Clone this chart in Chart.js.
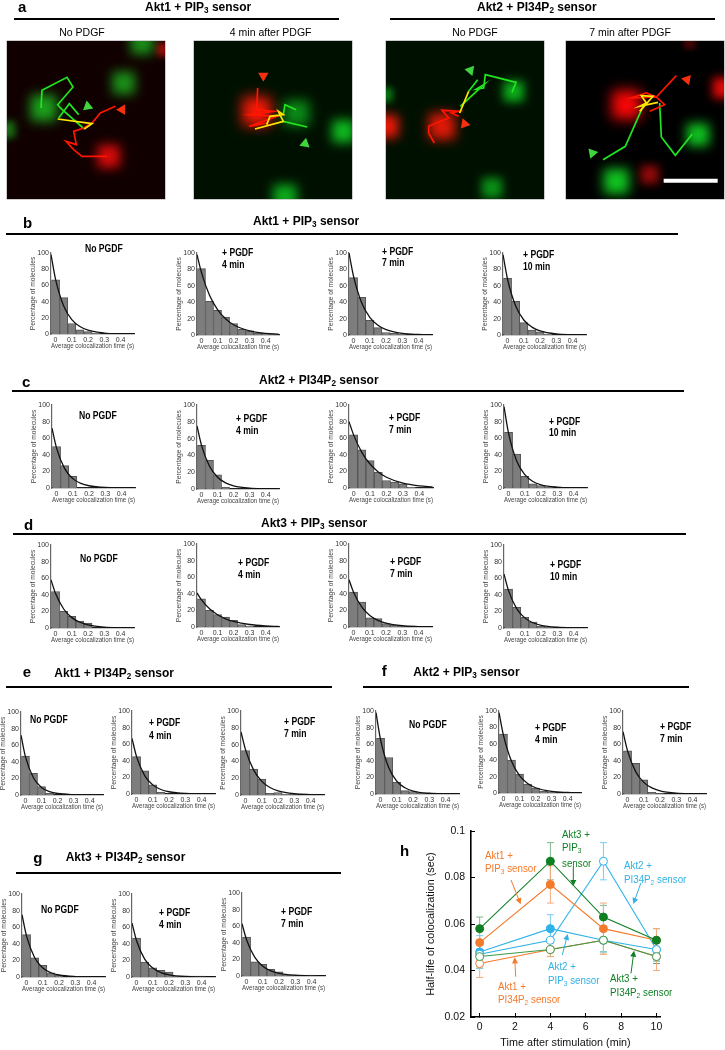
<!DOCTYPE html>
<html><head><meta charset="utf-8">
<script src="https://cdn.jsdelivr.net/npm/chart.js@4"></script>
<style>
html,body{margin:0;padding:0;background:#fff;width:725px;height:1050px;overflow:hidden}
#page{position:relative;width:725px;height:1050px;font-family:"Liberation Sans",Arial,sans-serif;color:#000;filter:blur(.4px)}
#page canvas{position:absolute}
.t{position:absolute;white-space:nowrap;transform:translateY(-50%);line-height:1}
.t sub{font-size:.68em;line-height:0;vertical-align:-.25em}
.rule{position:absolute;background:#000;height:2px}
#arrows{position:absolute;left:0;top:0}
</style></head><body><div id="page"></div>
<script>
// ---------- Histogram data: bin centres, curve sample positions, tick labels
const binX = [0, 0.05, 0.1, 0.15, 0.2, 0.25, 0.3, 0.35, 0.4, 0.45];
const curveX = [-0.028, 0, 0.05, 0.1, 0.15, 0.2, 0.3, 0.4, 0.48];
const histXTicks = [0, 0.1, 0.2, 0.3, 0.4];
const histYTicks = [0, 20, 40, 60, 80, 100];

const barsB1 = [67, 45, 13, 5, 3, 1];
const barsB2 = [81, 41, 30, 22, 14, 7, 5, 2, 2, 1];
const barsB3 = [70, 46, 18, 9, 3, 2, 1];
const barsB4 = [69, 41, 15, 6, 4, 1];
const barsC1 = [50, 27, 14];
const barsC2 = [52, 34, 17, 2];
const barsC3 = [64, 46, 33, 19, 9, 7, 5, 1];
const barsC4 = [67, 41, 14, 5, 3, 1];
const barsD1 = [44, 20, 14, 8, 6];
const barsD2 = [34, 20, 15, 12, 8, 3, 1];
const barsD3 = [42, 30, 11, 10, 4, 2, 1];
const barsD4 = [47, 25, 13, 7, 2, 1];
const barsE1 = [47, 26, 10, 2];
const barsE2 = [45, 28, 11, 2];
const barsE3 = [53, 31, 19, 2, 3, 1, 1];
const barsF1 = [67, 44, 14, 4, 3, 1];
const barsF2 = [72, 40, 23, 11, 6, 2, 1];
const barsF3 = [52, 37, 17, 2, 0.5];
const barsG1 = [51, 23, 14, 5, 2];
const barsG2 = [47, 18, 11, 8, 6, 1, 1, 1, 1];
const barsG3 = [47, 17, 14, 8, 5, 1, 1, 0, 1];

const curveB1 = [98, 67.5, 34.7, 17.8, 9.2, 4.7, 1.2, 0.3, 0.1];
const curveB2 = [98, 76.1, 48.5, 31, 19.8, 12.5, 5.1, 2.1, 1];
const curveB3 = [100, 71.6, 39.4, 21.6, 11.9, 6.6, 2, 0.6, 0.2];
const curveB4 = [98, 68, 35.3, 18.3, 9.6, 5, 1.3, 0.4, 0.1];
const curveC1 = [72, 48.1, 23.3, 11.3, 5.5, 2.7, 0.6, 0.2, 0];
const curveC2 = [75, 52, 27, 14, 7.3, 3.8, 1, 0.3, 0.1];
const curveC3 = [80, 64, 43, 28.9, 19.4, 13, 5.9, 2.6, 1.4];
const curveC4 = [98, 66, 32.5, 16.1, 7.9, 3.9, 1, 0.2, 0.1];
const curveD1 = [58, 41.5, 22.9, 12.5, 6.9, 3.8, 1.1, 0.3, 0.1];
const curveD2 = [41, 32.8, 22, 14.8, 9.9, 6.7, 3, 1.3, 0.7];
const curveD3 = [57, 41.9, 24.2, 14, 8, 4.6, 1.5, 0.5, 0.2];
const curveD4 = [65, 45, 23.4, 12.2, 6.3, 3.3, 0.9, 0.2, 0.1];
const curveE1 = [72, 45.9, 20.4, 9.1, 4.1, 1.8, 0.4, 0.1, 0];
const curveE2 = [67, 45, 22.2, 11, 5.4, 2.7, 0.6, 0.2, 0.1];
const curveE3 = [75, 53.7, 29.6, 16.2, 8.9, 4.9, 1.5, 0.5, 0.2];
const curveF1 = [98, 65.5, 31.8, 15.4, 7.5, 3.6, 0.9, 0.2, 0.1];
const curveF2 = [98, 70.2, 38.6, 21.2, 11.7, 6.4, 1.9, 0.6, 0.2];
const curveF3 = [75, 52, 27, 14, 7.3, 3.8, 1, 0.3, 0.1];
const curveG1 = [75, 49.2, 23.2, 10.9, 5.1, 2.4, 0.5, 0.1, 0];
const curveG2 = [65, 43.7, 21.6, 10.7, 5.2, 2.6, 0.6, 0.2, 0.1];
const curveG3 = [63, 43.7, 22.7, 11.8, 6.1, 3.2, 0.9, 0.2, 0.1];

// ---------- Panel h data
const timeX = [0, 4, 7, 10];
const timeTicks = [0, 2, 4, 6, 8, 10];
const halfTicks = [0.02, 0.04, 0.06, 0.08, 0.1];
const akt3Pip3 = [0.058, 0.087, 0.063, 0.053];
const akt3Pip3Err = [0.005, 0.008, 0.005, 0.005];
const akt1Pip3 = [0.052, 0.077, 0.058, 0.053];
const akt1Pip3Err = [0.005, 0.008, 0.011, 0.005];
const akt3Pi34 = [0.046, 0.049, 0.053, 0.046];
const akt3Pi34Err = [0.005, 0.003, 0.005, 0.003];
const akt2Pi34 = [0.047, 0.053, 0.087, 0.049];
const akt2Pi34Err = [0.005, 0.005, 0.008, 0.005];
const akt2Pip3 = [0.048, 0.058, 0.053, 0.049];
const akt2Pip3Err = [0.007, 0.006, 0.005, 0.005];
const akt1Pi34 = [0.043, 0.049, 0.053, 0.046];
const akt1Pi34Err = [0.006, 0.003, 0.006, 0.006];

// ---------- Panel a data (positions read in the picture's own units)
const blobsA1 = [[130,325,60,'#0b9f1c'],[370,250,52,'#0a8f18'],[425,130,52,'#0a8f18'],[20,390,38,'#086f12'],[325,470,52,'#c80a0a'],[490,150,30,'#8a0808']];
const blobsA2 = [[770,335,66,'#f80808'],[890,340,58,'#0a7a16'],[1030,395,52,'#0ea81e'],[855,590,54,'#0c9a1b']];
const blobsA3 = [[430,275,47,'#0c9c1b'],[365,565,47,'#0a7f16'],[47,285,32,'#07660f'],[215,380,60,'#e00808'],[50,380,52,'#ee0808']];
const blobsA4 = [[770,315,66,'#fa0606'],[1060,265,47,'#e20808'],[840,525,42,'#900808'],[960,130,28,'#400404'],[985,405,52,'#10c020'],[740,545,58,'#10c420']];
const redA1 = [[320,470],[245,470],[220,450],[197,425],[228,435],[220,395],[250,385],[275,370],[300,340],[345,320]];
const greenA1 = [[252,388],[180,325],[172,315],[218,262],[200,233],[125,272],[122,325]];
const green2A1 = [[175,355],[207,312],[235,345]];
const yellowA1 = [[172,358],[275,372],[252,388]];
const redA2 = [[773,265],[770,330],[820,335],[750,345],[830,350],[748,380],[800,370]];
const greenA2 = [[850,365],[922,382]];
const green2A2 = [[850,345],[855,315],[888,330]];
const yellowA2 = [[765,388],[850,365],[835,335],[850,345],[810,350],[800,375]];
const redA3 = [[192,430],[175,400],[175,380],[235,355],[215,332],[265,335],[243,340],[265,350]];
const greenA3 = [[270,320],[340,255],[318,268],[340,265],[345,225],[437,248],[425,278]];
const green2A3 = [[295,275],[322,240]];
const yellowA3 = [[268,340],[295,275]];
const redA4 = [[920,228],[860,292],[830,280],[785,295],[860,292],[885,315],[840,335]];
const greenA4 = [[700,480],[767,440],[820,320]];
const green2A4 = [[870,310],[875,412],[917,467],[968,403]];
const yellowA4 = [[810,335],[850,290],[815,288],[830,310],[810,320],[865,308]];
const scaleBarA4 = [[882,543],[1044,543]];
const headsRedA = [[[365,330],270],[[790,228],180],[[283,373],340],[[952,240],280]];
const headsGreenA = [[[262,320],230],[[915,432],10],[[300,212],160],[[668,460],320]];

// ---------- Layout helpers
const page = document.getElementById('page');
const font = '"Liberation Sans",Arial,sans-serif';

function text(html, x, y, size, o) {
  o = o || {};
  const d = document.createElement('div');
  d.className = 't';
  d.innerHTML = html;
  d.style.left = x + 'px';
  d.style.top = y + 'px';
  d.style.fontSize = size + 'px';
  if (o.bold) d.style.fontWeight = 'bold';
  if (o.color) d.style.color = o.color;
  if (o.center) d.style.transform = 'translate(-50%,-50%)';
  if (o.sx) { d.style.transform = 'translateY(-50%) scaleX(' + o.sx + ')'; d.style.transformOrigin = 'left center'; }
  page.appendChild(d);
}
function rule(x1, x2, y) {
  const d = document.createElement('div');
  d.className = 'rule';
  d.style.left = x1 + 'px';
  d.style.width = (x2 - x1) + 'px';
  d.style.top = (y - 1) + 'px';
  page.appendChild(d);
}
function addCanvas(left, top, w, h) {
  const c = document.createElement('canvas');
  c.width = w; c.height = h;
  c.style.left = left + 'px'; c.style.top = top + 'px';
  c.style.width = w + 'px'; c.style.height = h + 'px';
  page.appendChild(c);
  return c;
}
function fixBox(s, w, h) {
  if (w !== null) s.width = w;
  if (h !== null) s.height = h;
  s.paddingTop = s.paddingBottom = s.paddingLeft = s.paddingRight = 0;
}

// ---------- Headings
const PIP3 = 'PIP<sub>3</sub>', PI34 = 'PI34P<sub>2</sub>';
[
  ['a', 18, 6, 145, 6.5, 'Akt1 + ' + PIP3 + ' sensor', 14, 339, 19.3],
  ['', 0, 0, 477, 6.5, 'Akt2 + ' + PI34 + ' sensor', 390, 715, 19.3],
  ['b', 23, 221.7, 253, 221, 'Akt1 + ' + PIP3 + ' sensor', 6, 678, 233.7],
  ['c', 22, 381, 259, 380, 'Akt2 + ' + PI34 + ' sensor', 12, 684, 391],
  ['d', 24, 524, 261, 523, 'Akt3 + ' + PIP3 + ' sensor', 13, 686, 534.3],
  ['e', 22.7, 670.7, 54.3, 673, 'Akt1 + ' + PI34 + ' sensor', 6, 332, 687.3],
  ['f', 381.7, 670, 413.3, 671.7, 'Akt2 + ' + PIP3 + ' sensor', 363, 689, 687.3],
  ['g', 33.3, 857.3, 65.7, 857.3, 'Akt3 + ' + PI34 + ' sensor', 16, 341, 872.7]
].forEach(h => {
  if (h[0]) text(h[0], h[1], h[2], 15, {bold: true});
  text(h[5], h[3], h[4], 12, {bold: true});
  rule(h[6], h[7], h[8]);
});
text('h', 400, 850, 15, {bold: true});
text('No PDGF', 82, 31.7, 10.5, {center: true});
text('4 min after PDGF', 270.7, 31.7, 10.5, {center: true});
text('No PDGF', 475, 31.7, 10.5, {center: true});
text('7 min after PDGF', 630, 31.7, 10.5, {center: true});

// ---------- Panel a images
function imagePlugin(bg, blobs) {
  return {
    id: 'micro',
    beforeDatasetsDraw(chart) {
      const {ctx, chartArea: a, scales: {x, y}} = chart;
      ctx.save();
      ctx.beginPath(); ctx.rect(a.left, a.top, a.right - a.left, a.bottom - a.top); ctx.clip();
      ctx.fillStyle = bg;
      ctx.fillRect(a.left, a.top, a.right - a.left, a.bottom - a.top);
      ctx.globalCompositeOperation = 'lighter';
      blobs.forEach(b => {
        const px = x.getPixelForValue(b[0]), py = y.getPixelForValue(b[1]);
        const r = Math.abs(x.getPixelForValue(b[0] + b[2]) - px);
        ctx.filter = 'blur(' + (r * 0.3) + 'px)';
        ctx.fillStyle = b[3];
        ctx.fillRect(px - r * 0.65, py - r * 0.65, r * 1.3, r * 1.3);
      });
      ctx.restore();
    }
  };
}
const pts = arr => arr.map(p => ({x: p[0], y: p[1]}));
function track(arr, color, width) {
  return {type: 'scatter', data: pts(arr), showLine: true, borderColor: color, borderWidth: width || 1.7, pointRadius: 0, tension: 0};
}
[
  {left: 7, ox: 20, bg: '#100000', blobs: blobsA1, tr: [yellowA1, redA1, greenA1, green2A1], i: 0},
  {left: 194, ox: 582, bg: '#001000', blobs: blobsA2, tr: [yellowA2, redA2, greenA2, green2A2], i: 1},
  {left: 386, ox: 47, bg: '#001000', blobs: blobsA3, tr: [yellowA3, redA3, greenA3, green2A3], i: 2},
  {left: 566, ox: 589, bg: '#000000', blobs: blobsA4, tr: [yellowA4, redA4, greenA4, green2A4], i: 3}
].forEach(im => {
  const c = addCanvas(im.left, 41, 158, 158);
  c.style.boxShadow = '0 0 0 .5px #999';
  const ds = [
    {type: 'scatter', data: pts([headsRedA[im.i][0]]), pointStyle: 'triangle', rotation: headsRedA[im.i][1], pointRadius: 6, backgroundColor: '#f5300f', borderWidth: 0},
    {type: 'scatter', data: pts([headsGreenA[im.i][0]]), pointStyle: 'triangle', rotation: headsGreenA[im.i][1], pointRadius: 6, backgroundColor: '#3fd53f', borderWidth: 0},
    track(im.tr[0], '#ffe600'),
    track(im.tr[1], '#ff1500'),
    track(im.tr[2], '#1fe61f'),
    track(im.tr[3], '#1fe61f')
  ];
  if (im.i === 3) ds.unshift(track(scaleBarA4, '#ffffff', 4));
  new Chart(c, {
    type: 'scatter',
    data: {datasets: ds},
    options: {
      responsive: false, animation: false, devicePixelRatio: 1,
      layout: {padding: 0, autoPadding: false},
      plugins: {legend: {display: false}, tooltip: {enabled: false}},
      scales: {
        x: {type: 'linear', display: false, min: im.ox, max: im.ox + 474},
        y: {type: 'linear', display: false, min: 124, max: 598, reverse: true}
      }
    },
    plugins: [imagePlugin(im.bg, im.blobs)]
  });
});

// ---------- Histograms
const histLayout = [
  [barsB1, curveB1, 51, 134, 252.7, 334],
  [barsB2, curveB2, 196.7, 279, 252.5, 334],
  [barsB3, curveB3, 349, 432, 252.5, 334],
  [barsB4, curveB4, 503.3, 586.7, 252.5, 334],
  [barsC1, curveC1, 52, 134.7, 405, 488],
  [barsC2, curveC2, 196.7, 279, 405, 488.7],
  [barsC3, curveC3, 349, 432.7, 405, 488],
  [barsC4, curveC4, 503.7, 586.7, 405, 488],
  [barsD1, curveD1, 51.3, 134, 544.7, 628],
  [barsD2, curveD2, 196.7, 279, 544, 627.3],
  [barsD3, curveD3, 349.3, 432, 544, 627.3],
  [barsD4, curveD4, 503.7, 586.7, 545, 628.3],
  [barsE1, curveE1, 20.7, 103, 711.7, 794.7],
  [barsE2, curveE2, 131.7, 214.7, 711, 794.3],
  [barsE3, curveE3, 241, 323.7, 711, 794.7],
  [barsF1, curveF1, 376, 459.3, 710.7, 793.7],
  [barsF2, curveF2, 498.7, 581, 710.7, 793],
  [barsF3, curveF3, 622.7, 705.3, 710.7, 793.3],
  [barsG1, curveG1, 22, 105, 894, 977],
  [barsG2, curveG2, 131.7, 214.7, 893.7, 976.7],
  [barsG3, curveG3, 241.7, 324.3, 893.3, 976.3]
];
const axisL = 22, axisB = 17, padT = 6, padR = 10;
histLayout.forEach(h => {
  const [bars, curve, l, r, t, b] = h;
  const w = Math.round(r - l), hh = Math.round(b - t);
  const c = addCanvas(Math.round(l) - axisL, Math.round(t) - padT, w + axisL + padR, hh + padT + axisB);
  new Chart(c, {
    type: 'bar',
    data: {datasets: [
      {type: 'line', data: curveX.map((x, i) => ({x, y: curve[i]})), borderColor: '#111', borderWidth: 1.3, pointRadius: 0, cubicInterpolationMode: 'monotone', order: 0},
      {type: 'bar', data: bars.map((v, i) => ({x: binX[i], y: v})), backgroundColor: '#7d7d7d', borderColor: '#555', borderWidth: 1, barPercentage: 1, categoryPercentage: 1, order: 1}
    ]},
    options: {
      responsive: false, animation: false, devicePixelRatio: 1,
      layout: {padding: {left: 0, top: padT, right: padR, bottom: 0}, autoPadding: false},
      plugins: {legend: {display: false}, tooltip: {enabled: false}},
      scales: {
        x: {
          type: 'linear', offset: false, min: -0.028, max: 0.483,
          afterBuildTicks: s => { s.ticks = histXTicks.map(v => ({value: v})); },
          afterFit: s => fixBox(s, null, axisB),
          grid: {display: false, drawTicks: false},
          border: {color: '#222', width: 1.2},
          ticks: {font: {size: 7, family: font}, color: '#333', padding: 2, maxRotation: 0, autoSkip: false, callback: v => String(v)},
          title: {display: true, text: 'Average colocalization time (s)', font: {size: 7.7, family: font}, color: '#444', padding: 0}
        },
        y: {
          type: 'linear', min: 0, max: 100,
          afterBuildTicks: s => { s.ticks = histYTicks.map(v => ({value: v})); },
          afterFit: s => fixBox(s, axisL, null),
          grid: {display: false, drawTicks: false},
          border: {color: '#666', width: 1.2},
          ticks: {font: {size: 7, family: font}, color: '#333', padding: 2, autoSkip: false},
          title: {display: true, text: 'Percentage of molecules', font: {size: 6.7, family: font}, color: '#444', padding: 0}
        }
      }
    }
  });
});

// Condition labels inside the histograms
[
  [85, 249.3, 'No PGDF'], [221.7, 253.3, '+ PGDF', 265.3, '4 min'], [382, 251.7, '+ PGDF', 263.3, '7 min'], [522.7, 255, '+ PGDF', 267.3, '10 min'],
  [78.7, 416, 'No PGDF'], [236, 419.3, '+ PGDF', 431.3, '4 min'], [389.3, 417.7, '+ PGDF', 430, '7 min'], [548.7, 421.7, '+ PGDF', 433.3, '10 min'],
  [80, 559.3, 'No PGDF'], [237.7, 563.3, '+ PGDF', 575.3, '4 min'], [390.3, 561.7, '+ PGDF', 573.7, '7 min'], [550, 565, '+ PGDF', 577.3, '10 min'],
  [30.3, 720, 'No PGDF'], [149, 723.3, '+ PGDF', 735.7, '4 min'], [284.3, 722, '+ PGDF', 734.3, '7 min'],
  [409.3, 724.7, 'No PGDF'], [534.7, 727.7, '+ PGDF', 740.3, '4 min'], [660, 726.7, '+ PGDF', 738.7, '7 min'],
  [40.7, 910, 'No PGDF'], [159.3, 913.3, '+ PGDF', 925.3, '4 min'], [280.7, 912, '+ PGDF', 924, '7 min']
].forEach(a => {
  text(a[2], a[0], a[1], 10, {bold: true, sx: 0.86});
  if (a[3]) text(a[4], a[0], a[3], 10, {bold: true, sx: 0.86});
});

// ---------- Panel h
const ORANGE = '#f47a2c', DGREEN = '#0f7f24', LGREEN = '#3a9a4a', BLUE = '#2fb2e8';
const errorSets = [
  [akt3Pip3, akt3Pip3Err, '#7fb98a'], [akt1Pip3, akt1Pip3Err, '#f6ab7c'], [akt3Pi34, akt3Pi34Err, '#5aa869'],
  [akt2Pi34, akt2Pi34Err, '#79cdf0'], [akt2Pip3, akt2Pip3Err, '#79cdf0'], [akt1Pi34, akt1Pi34Err, '#f6ab7c']
];
const errorPlugin = {
  id: 'errs',
  beforeDatasetsDraw(chart) {
    const {ctx, scales: {x, y}} = chart;
    ctx.save();
    ctx.lineWidth = 1;
    errorSets.forEach(s => {
      ctx.strokeStyle = s[2];
      timeX.forEach((t, i) => {
        const px = x.getPixelForValue(t);
        const hi = y.getPixelForValue(s[0][i] + s[1][i]), lo = y.getPixelForValue(s[0][i] - s[1][i]);
        ctx.beginPath();
        ctx.moveTo(px, hi); ctx.lineTo(px, lo);
        ctx.moveTo(px - 3.5, hi); ctx.lineTo(px + 3.5, hi);
        ctx.moveTo(px - 3.5, lo); ctx.lineTo(px + 3.5, lo);
        ctx.stroke();
      });
    });
    ctx.restore();
  }
};
function hSeries(values, line, fill) {
  return {
    data: timeX.map((t, i) => ({x: t, y: values[i]})),
    borderColor: line, borderWidth: 1.1, tension: 0,
    pointRadius: 4, pointBorderWidth: 1, pointBackgroundColor: fill, pointBorderColor: line
  };
}
{
  const axL = 46, axB = 33, pT = 8, pR = 8, l = 471, r = 660, t = 831, b = 1017;
  const c = addCanvas(l - axL, t - pT, r - l + axL + pR, b - t + pT + axB);
  new Chart(c, {
    type: 'line',
    data: {datasets: [
      hSeries(akt3Pip3, DGREEN, DGREEN),
      hSeries(akt1Pip3, ORANGE, ORANGE),
      hSeries(akt3Pi34, LGREEN, '#fff'),
      hSeries(akt2Pi34, BLUE, '#fff'),
      hSeries(akt2Pip3, BLUE, BLUE),
      hSeries(akt1Pi34, ORANGE, '#fff')
    ]},
    options: {
      responsive: false, animation: false, devicePixelRatio: 1, clip: false,
      layout: {padding: {left: 0, top: pT, right: pR, bottom: 0}, autoPadding: false},
      plugins: {legend: {display: false}, tooltip: {enabled: false}},
      scales: {
        x: {
          type: 'linear', min: -0.49, max: 10.2,
          afterBuildTicks: s => { s.ticks = timeTicks.map(v => ({value: v})); },
          afterFit: s => fixBox(s, null, axB),
          grid: {drawOnChartArea: false, tickLength: -4, tickColor: '#000', tickWidth: 1},
          border: {color: '#000', width: 1.6},
          ticks: {font: {size: 10.5, family: font}, color: '#111', padding: 8, maxRotation: 0, autoSkip: false},
          title: {display: true, text: 'Time after stimulation (min)', font: {size: 10.8, family: font}, color: '#111', padding: 0}
        },
        y: {
          type: 'linear', min: 0.02, max: 0.1,
          afterBuildTicks: s => { s.ticks = halfTicks.map(v => ({value: v})); },
          afterFit: s => fixBox(s, axL, null),
          grid: {drawOnChartArea: false, tickLength: -4, tickColor: '#000', tickWidth: 1},
          border: {color: '#000', width: 1.6},
          ticks: {font: {size: 10.5, family: font}, color: '#111', padding: 10, autoSkip: false, callback: v => v === 0.1 ? '0.1' : v.toFixed(2)},
          title: {display: true, text: 'Half-life of colocalization (sec)', font: {size: 10.8, family: font}, color: '#111', padding: 0}
        }
      }
    },
    plugins: [errorPlugin]
  });
}
[
  [485, 855, 'Akt1 +', ORANGE], [485, 868.3, PIP3 + ' sensor', ORANGE],
  [562.3, 834, 'Akt3 +', DGREEN], [562.3, 847.3, PIP3, DGREEN], [562.3, 862.7, 'sensor', DGREEN],
  [624.3, 865, 'Akt2 +', BLUE], [624.3, 879, PI34 + ' sensor', BLUE],
  [548.3, 966, 'Akt2 +', BLUE], [548.3, 979.7, PIP3 + ' sensor', BLUE],
  [498.3, 985.7, 'Akt1 +', ORANGE], [498.3, 999.3, PI34 + ' sensor', ORANGE],
  [610, 977.7, 'Akt3 +', DGREEN], [610, 991.7, PI34 + ' sensor', DGREEN]
].forEach(a => text(a[2], a[0], a[1], 10.5, {color: a[3], sx: 0.93}));

// Annotation arrows of panel h
const arrowList = [
  [511, 880, 520.7, 904.3, ORANGE], [573.3, 866.7, 573.3, 886, DGREEN], [641, 882.7, 633.3, 904, BLUE],
  [562.3, 955, 567.7, 934, BLUE], [515.7, 976.7, 514.7, 957.3, ORANGE], [631, 973.3, 634, 950.7, DGREEN]
];
const NS = 'http://www.w3.org/2000/svg';
const svg = document.createElementNS(NS, 'svg');
svg.setAttribute('id', 'arrows'); svg.setAttribute('width', 725); svg.setAttribute('height', 1050);
arrowList.forEach(a => {
  const [x1, y1, x2, y2, col] = a;
  const L = Math.hypot(x2 - x1, y2 - y1), ux = (x2 - x1) / L, uy = (y2 - y1) / L;
  const ln = document.createElementNS(NS, 'line');
  ln.setAttribute('x1', x1); ln.setAttribute('y1', y1);
  ln.setAttribute('x2', x2 - ux * 4); ln.setAttribute('y2', y2 - uy * 4);
  ln.setAttribute('stroke', col); ln.setAttribute('stroke-width', 1);
  svg.appendChild(ln);
  const p = document.createElementNS(NS, 'polygon');
  const bx = x2 - ux * 6, by = y2 - uy * 6;
  p.setAttribute('points', x2 + ',' + y2 + ' ' + (bx - uy * 3) + ',' + (by + ux * 3) + ' ' + (bx + uy * 3) + ',' + (by - ux * 3));
  p.setAttribute('fill', col);
  svg.appendChild(p);
});
page.appendChild(svg);
</script></body></html>
